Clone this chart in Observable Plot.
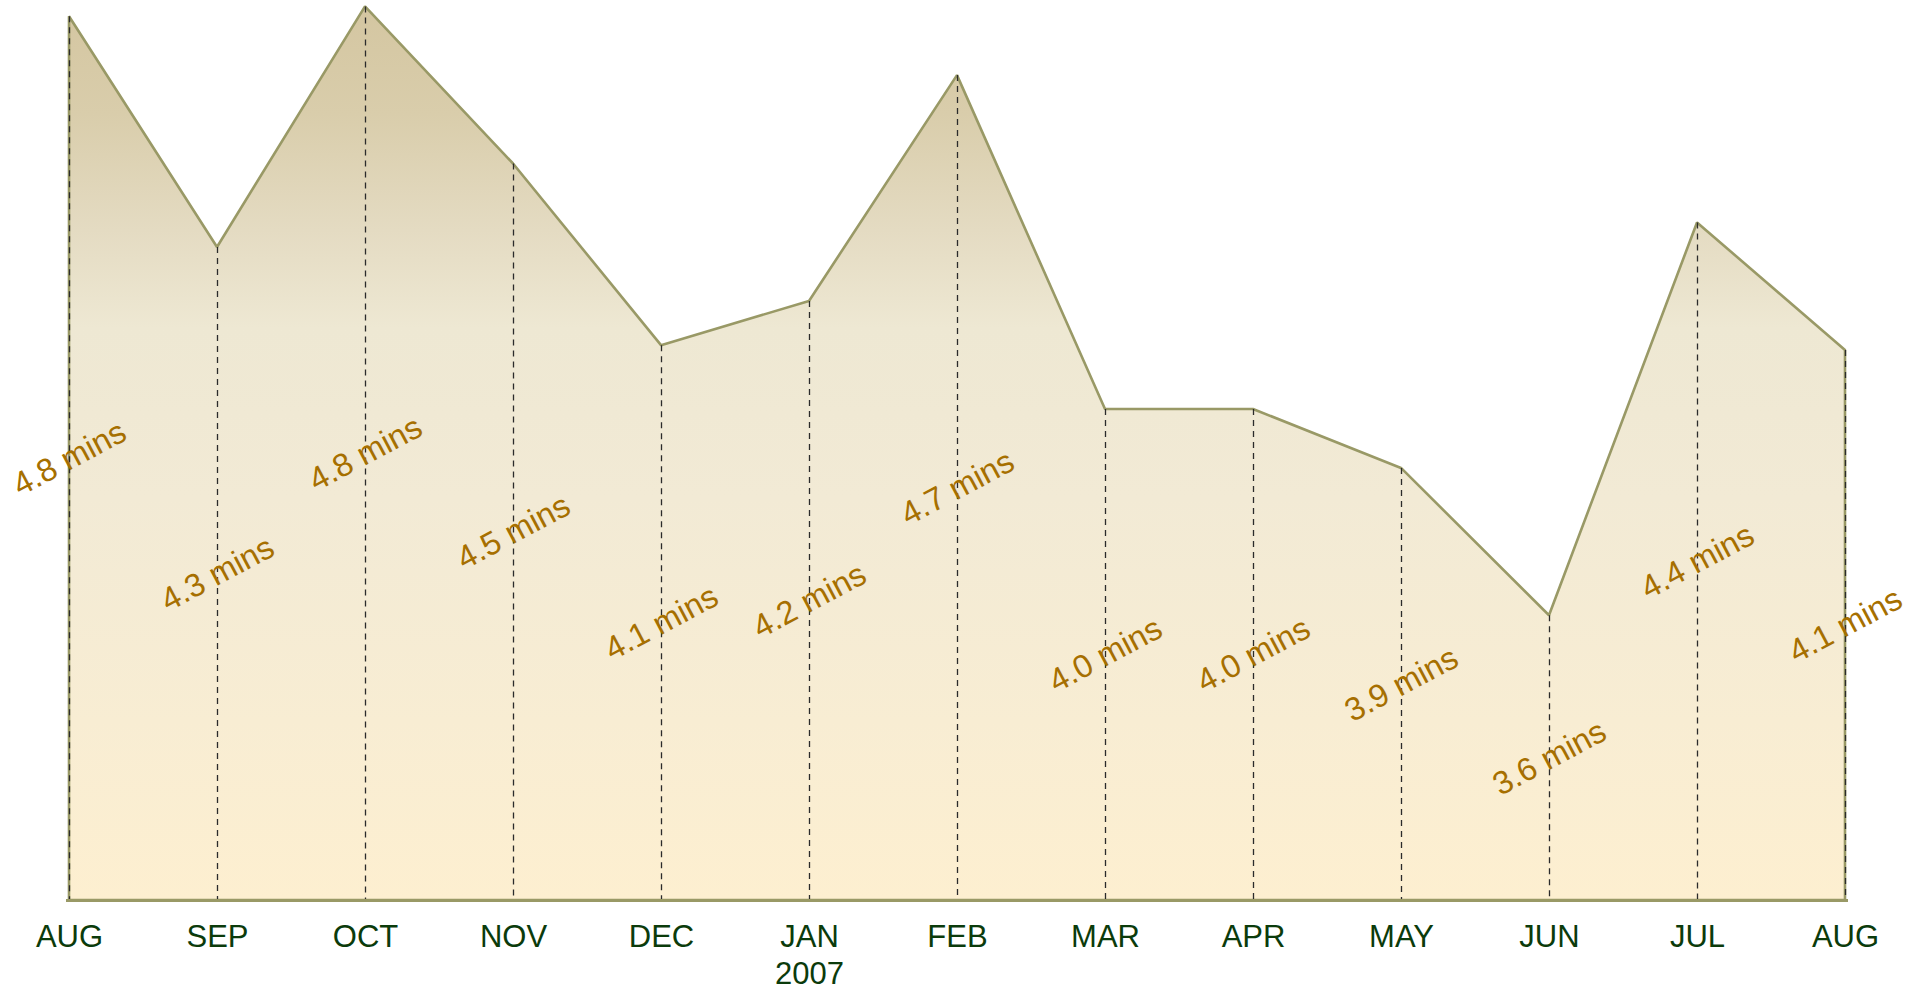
<!DOCTYPE html>
<html>
<head>
<meta charset="utf-8">
<script src="https://cdn.jsdelivr.net/npm/d3@7"></script>
<script src="https://cdn.jsdelivr.net/npm/@observablehq/plot@0.6"></script>
<style>
html, body { margin: 0; padding: 0; background: #ffffff; overflow: hidden; }
#chart svg { display: block; }
</style>
</head>
<body>
<div id="chart"></div>
<script>
// ---- data ----
const monthKeys = ["2006-08", "2006-09", "2006-10", "2006-11", "2006-12", "2007-01", "2007-02",
                   "2007-03", "2007-04", "2007-05", "2007-06", "2007-07", "2007-08"];
const monthLabels = ["AUG", "SEP", "OCT", "NOV", "DEC", "JAN\n2007", "FEB",
                     "MAR", "APR", "MAY", "JUN", "JUL", "AUG"];
const minutes = [4.80, 4.33, 4.82, 4.50, 4.13, 4.22, 4.68, 4.00, 4.00, 3.88, 3.58, 4.38, 4.12];
const yBase = 3;
const yTop = 4.833;

const data = monthKeys.map((k, i) => ({key: k, v: minutes[i]}));

// gradient definition for the area fill
const gradientDefs = () => {
  const defs = d3.create("svg:defs");
  const lg = defs.append("linearGradient")
    .attr("id", "areaGrad")
    .attr("x1", 0).attr("y1", 0).attr("x2", 0).attr("y2", 1);
  [[0, "#d4c6a1"], [0.12, "#d9cdab"], [0.25, "#e4dbc2"], [0.36, "#eee8d3"],
   [0.55, "#f2ead5"], [0.8, "#f8edd3"], [1, "#fdefd0"]].forEach(([o, c]) =>
    lg.append("stop").attr("offset", o).attr("stop-color", c));
  return defs.node();
};

const chart = Plot.plot({
  width: 1925,
  height: 997,
  marginLeft: 66,
  marginRight: 77,
  marginTop: 0,
  marginBottom: 97,
  style: {fontFamily: "'Liberation Sans', Arial, sans-serif", background: "#ffffff"},
  x: {type: "point", domain: monthKeys, padding: 0, label: null},
  y: {domain: [yBase, yTop], axis: null},
  marks: [
    gradientDefs,
    Plot.areaY(data, {x: "key", y1: yBase, y2: "v", fill: "url(#areaGrad)",
                      stroke: "#999966", strokeWidth: 2.6, strokeLinejoin: "miter"}),
    Plot.ruleX(data, {x: "key", y1: "v", y2: yBase, stroke: "#2b2b2b",
                      strokeWidth: 1.3, strokeDasharray: "6,5"}),
    Plot.ruleY([yBase], {stroke: "#999966", strokeWidth: 3}),
    Plot.text(data, {x: "key", y: d => (d.v + yBase) / 2,
                     text: d => d.v.toFixed(1) + " mins",
                     rotate: -28, fontSize: 32.5, fill: "#a66f00",
                     textAnchor: "middle", lineAnchor: "middle"}),
    Plot.axisX({tickSize: 0, tickPadding: 21, fontSize: 31, lineHeight: 1.18, color: "#0b3b0b",
                tickFormat: d => monthLabels[monthKeys.indexOf(d)], label: null})
  ]
});
document.getElementById("chart").appendChild(chart);
</script>
</body>
</html>
